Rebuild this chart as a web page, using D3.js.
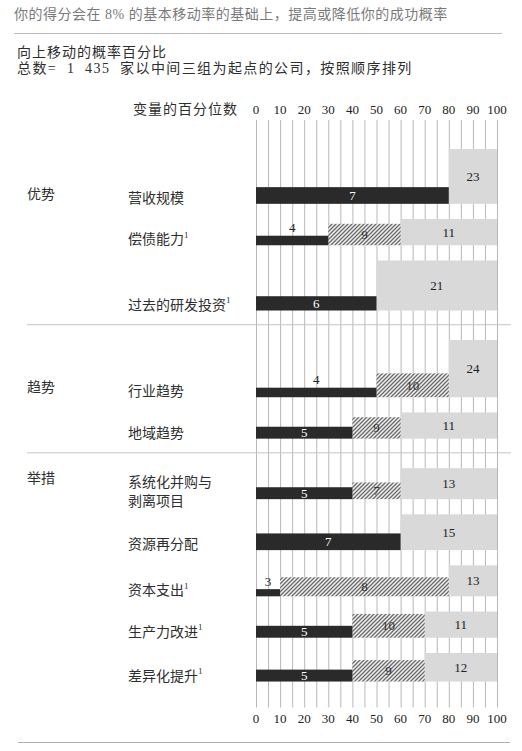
<!DOCTYPE html>
<html>
<head>
<meta charset="utf-8">
<script src="https://cdn.jsdelivr.net/npm/d3@7"></script>
<style>
  body { margin: 0; background: #fff; }
  svg { display: block; }
</style>
</head>
<body>
<div id="chart"></div>
<script>
// data
const groupNames = ["优势", "趋势", "举措"];
const rowLabels = [
  ["营收规模"], ["偿债能力"], ["过去的研发投资"],
  ["行业趋势"], ["地域趋势"],
  ["系统化并购与", "剥离项目"], ["资源再分配"], ["资本支出"], ["生产力改进"], ["差异化提升"]
];
const rowNote = [false, true, true, false, false, false, false, true, true, true];
const rowGroup = [0, 0, 0, 1, 1, 2, 2, 2, 2, 2];
// percentile where each segment ends
const darkEnd  = [80, 30, 50, 50, 40, 40, 60, 10, 40, 40];
const hatchEnd = [null, 60, null, 80, 60, 60, null, 80, 70, 70];
// probability (%) of each segment
const darkVal  = [7, 4, 6, 4, 5, 5, 7, 3, 5, 5];
const hatchVal = [null, 9, null, 10, 9, 7, null, 8, 10, 9];
const grayVal  = [23, 11, 21, 24, 11, 13, 15, 13, 11, 12];
const tickVals = [0, 10, 20, 30, 40, 50, 60, 70, 80, 90, 100];
const gridVals = d3.range(0, 101, 5);

const W = 522, H = 751;
const font = "'Liberation Serif', 'Noto Sans CJK SC', serif";
const textColor = "#2e2e2e";

const svg = d3.select("#chart").append("svg")
    .attr("width", W)
    .attr("height", H)
    .style("font-family", font);

// scales
const x = d3.scaleLinear().domain([0, 100]).range([256, 497]);
const h = d3.scaleLinear().domain([0, 25]).range([0, 59.6]);

// vertical layout: stack the rows, extra room where a group changes
const rowGap = 15.2, groupGap = 29.5;
const baseY = [];
const sepY = [];
let cursor = 149;
rowLabels.forEach((_, i) => {
    if (i > 0) {
        if (rowGroup[i] !== rowGroup[i - 1]) {
            sepY.push(cursor + 14.2);
            cursor += groupGap;
        } else {
            cursor += rowGap;
        }
    }
    cursor += h(grayVal[i]);
    baseY.push(cursor);
});
const gridTop = 120, gridBottom = baseY[baseY.length - 1] + 26;

// hatch pattern (diagonal "///" lines)
const defs = svg.append("defs");
const pat = defs.append("pattern")
    .attr("id", "hatch")
    .attr("patternUnits", "userSpaceOnUse")
    .attr("width", 4)
    .attr("height", 4);
pat.append("rect").attr("width", 4).attr("height", 4).attr("fill", "#f0f0f0");
pat.append("path")
    .attr("d", "M-1,1 l2,-2 M0,4 l4,-4 M3,5 l2,-2")
    .attr("stroke", "#6a6a6a").attr("stroke-width", 1.3);

// header
svg.append("text")
    .attr("x", 14).attr("y", 14)
    .attr("dominant-baseline", "central")
    .style("font-size", "14px")
    .style("letter-spacing", "0.5px")
    .style("fill", "#7a7a7a")
    .text("你的得分会在 8% 的基本移动率的基础上，提高或降低你的成功概率");

svg.append("line")
    .attr("x1", 14).attr("x2", 502).attr("y1", 33.5).attr("y2", 33.5)
    .attr("stroke", "#bbb");

svg.append("text")
    .attr("x", 17).attr("y", 52.5)
    .attr("dominant-baseline", "central")
    .style("font-size", "14px")
    .style("letter-spacing", "1px")
    .style("fill", textColor)
    .text("向上移动的概率百分比");

svg.append("text")
    .attr("x", 17).attr("y", 68.5)
    .attr("dominant-baseline", "central")
    .style("font-size", "14px")
    .style("letter-spacing", "1.4px")
    .style("white-space", "pre")
    .style("fill", textColor)
    .text("总数=  1  435  家以中间三组为起点的公司，按照顺序排列");

svg.append("text")
    .attr("x", 238).attr("y", 109)
    .attr("text-anchor", "end")
    .attr("dominant-baseline", "central")
    .style("font-size", "14px")
    .style("letter-spacing", "1px")
    .style("fill", textColor)
    .text("变量的百分位数");

// gridlines
svg.append("g").selectAll("line")
    .data(gridVals)
    .join("line")
    .attr("x1", d => x(d) + 0.5).attr("x2", d => x(d) + 0.5)
    .attr("y1", gridTop).attr("y2", gridBottom)
    .attr("stroke", "#b8b8b8")
    .attr("stroke-width", 1);

// tick labels top and bottom
[gridTop - 11, gridBottom + 11].forEach(ty => {
    svg.append("g").selectAll("text")
        .data(tickVals)
        .join("text")
        .attr("x", d => x(d))
        .attr("y", ty)
        .attr("text-anchor", "middle")
        .attr("dominant-baseline", "central")
        .style("font-size", "13px")
        .style("fill", "#222")
        .text(d => d);
});

// separators
svg.append("g").selectAll("line")
    .data(sepY)
    .join("line")
    .attr("x1", 27).attr("x2", 511)
    .attr("y1", d => d).attr("y2", d => d)
    .attr("stroke", "#c4c4c4");

svg.append("line")
    .attr("x1", 18).attr("x2", 510).attr("y1", 742.5).attr("y2", 742.5)
    .attr("stroke", "#b0b0b0");

// bars
const bars = svg.append("g");
rowLabels.forEach((lab, i) => {
    const b = baseY[i];
    const midEnd = hatchEnd[i] === null ? darkEnd[i] : hatchEnd[i];

    // gray segment
    bars.append("rect")
        .attr("x", x(midEnd)).attr("width", x(100) - x(midEnd))
        .attr("y", b - h(grayVal[i])).attr("height", h(grayVal[i]))
        .attr("fill", "#d9d9d9");
    bars.append("text")
        .attr("x", (x(midEnd) + x(100)) / 2)
        .attr("y", b - h(grayVal[i]) / 2)
        .attr("text-anchor", "middle")
        .attr("dominant-baseline", "central")
        .style("font-size", "13px")
        .style("fill", "#222")
        .text(grayVal[i]);

    // hatched segment
    if (hatchEnd[i] !== null) {
        bars.append("rect")
            .attr("x", x(darkEnd[i])).attr("width", x(hatchEnd[i]) - x(darkEnd[i]))
            .attr("y", b - h(hatchVal[i])).attr("height", h(hatchVal[i]))
            .attr("fill", "url(#hatch)");
        bars.append("text")
            .attr("x", (x(darkEnd[i]) + x(hatchEnd[i])) / 2)
            .attr("y", b - h(hatchVal[i]) / 2)
            .attr("text-anchor", "middle")
            .attr("dominant-baseline", "central")
            .style("font-size", "13px")
            .style("fill", "#333")
            .text(hatchVal[i]);
    }

    // dark segment
    const dh = h(darkVal[i]);
    bars.append("rect")
        .attr("x", x(0)).attr("width", x(darkEnd[i]) - x(0))
        .attr("y", b - dh).attr("height", dh)
        .attr("fill", "#2a2a2a");
    const inside = dh >= 11;
    bars.append("text")
        .attr("x", (x(0) + x(darkEnd[i])) / 2)
        .attr("y", inside ? b - dh / 2 : b - dh - 8)
        .attr("text-anchor", "middle")
        .attr("dominant-baseline", "central")
        .style("font-size", "13px")
        .style("fill", inside ? "#fff" : "#222")
        .text(darkVal[i]);

    // row label
    const ly = lab.length > 1 ? b - 16.5 : b - 5.5;
    lab.forEach((line, k) => {
        const t = svg.append("text")
            .attr("x", 128)
            .attr("y", ly + k * 18.5)
            .attr("dominant-baseline", "central")
            .style("font-size", "14px")
            .style("fill", textColor)
            .text(line);
        if (rowNote[i] && k === lab.length - 1) {
            t.append("tspan")
                .attr("dy", -5)
                .style("font-size", "9px")
                .text("1");
        }
    });

    // group label on the first row of each group
    if (i === 0 || rowGroup[i] !== rowGroup[i - 1]) {
        svg.append("text")
            .attr("x", 27)
            .attr("y", ly - 4)
            .attr("dominant-baseline", "central")
            .style("font-size", "14px")
            .style("fill", textColor)
            .text(groupNames[rowGroup[i]]);
    }
});
</script>
</body>
</html>
